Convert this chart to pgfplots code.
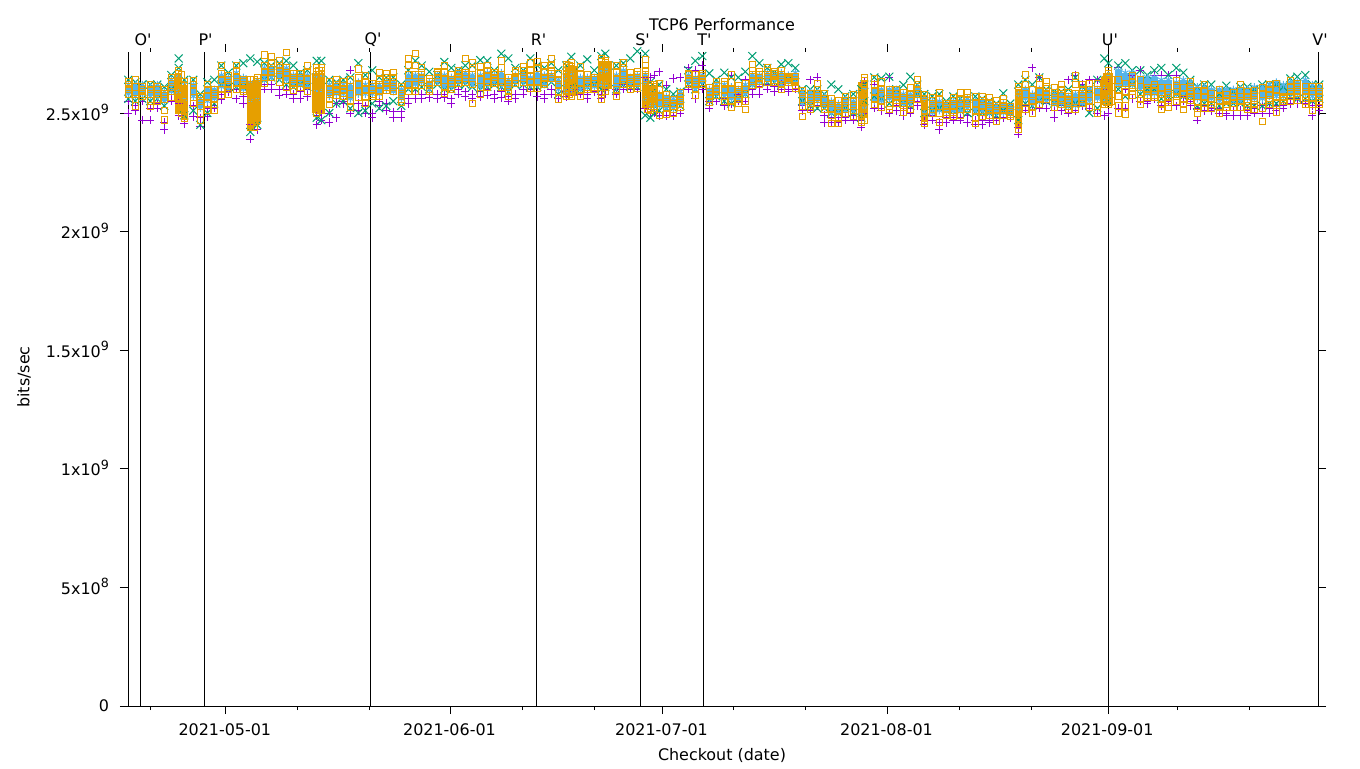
\documentclass[border=0pt]{standalone}
\usepackage{pgfplots}
\usepackage{pgfplotstable}
\usepackage{fontspec}
\setmainfont{DejaVu Sans}
\newfontfamily\nf{DejaVu Sans}
\pgfplotsset{compat=1.18}
\definecolor{cp}{HTML}{9400D3}
\definecolor{cg}{HTML}{009E73}
\definecolor{cb}{HTML}{56B4E9}
\definecolor{co}{HTML}{E69F00}
\newcommand{\tf}{\fontsize{11.95}{14}\selectfont}
\newcommand{\sx}[2]{#1x10\raisebox{0.42em}{\fontsize{9.5}{10}\selectfont #2}}
\pgfplotstableread{
x o1 o2 o3 o4 o5 bh bl p1 p2 g1 g2
128.3 2.63 2.62 2.61 2.60 2.58 2.62 2.58 2.55 2.50 2.64 2.56
135.3 2.64 2.61 2.58 2.56 2.53 2.62 2.57 2.53 2.51 2.63 2.55
142.3 2.61 2.60 2.59 2.58 2.57 2.62 2.58 2.55 2.47 2.62 2.56
150.3 2.62 2.60 2.58 2.55 2.53 2.61 2.57 2.52 2.47 2.62 2.55
157.3 2.61 2.60 2.58 2.56 2.55 2.62 2.57 2.54 2.52 2.62 2.56
164.3 2.60 2.58 2.56 2.51 2.47 2.59 2.55 2.46 2.43 2.61 2.53
171.3 2.65 2.63 2.61 2.59 2.565 2.64 2.59 2.58 2.55 2.66 2.60
178.7 2.68 2.65 2.62 2.59 2.56 2.66 2.59 2.54 2.49 2.73 2.69
184.3 2.63 2.60 2.57 2.53 2.48 2.62 2.56 2.50 2.455 2.64 2.49
193.3 2.636 2.62 2.59 2.565 2.54 2.62 2.57 2.53 2.485 2.64 2.51
200.3 2.57 2.55 2.53 2.50 2.47 2.56 2.52 2.48 2.445 2.58 2.45
207.3 2.62 2.60 2.57 2.54 2.51 2.60 2.55 2.52 2.485 2.63 2.50
214.3 2.60 2.58 2.56 2.535 2.51 2.60 2.56 2.53 2.52 2.64 2.54
221.3 2.70 2.665 2.64 2.60 2.575 2.66 2.61 2.58 2.555 2.70 2.62
228.3 2.655 2.64 2.62 2.60 2.58 2.65 2.60 2.60 2.59 2.67 2.61
236.3 2.70 2.68 2.65 2.63 2.60 2.67 2.62 2.60 2.56 2.70 2.61
243.3 2.64 2.63 2.62 2.60 2.59 2.65 2.60 2.57 2.54 2.71 2.61
250.3 2.64 2.60 2.56 2.52 2.44 2.63 2.55 2.45 2.39 2.73 2.42
257.3 2.65 2.61 2.57 2.53 2.47 2.64 2.56 2.50 2.43 2.716 2.45
264.3 2.745 2.70 2.67 2.65 2.625 2.69 2.64 2.62 2.60 2.71 2.64
271.3 2.735 2.71 2.69 2.67 2.65 2.69 2.65 2.62 2.60 2.70 2.65
279.3 2.72 2.70 2.68 2.66 2.63 2.69 2.65 2.60 2.575 2.71 2.64
286.3 2.755 2.69 2.67 2.64 2.61 2.69 2.64 2.60 2.58 2.72 2.62
293.3 2.667 2.65 2.63 2.615 2.597 2.66 2.62 2.58 2.56 2.70 2.61
300.3 2.667 2.65 2.64 2.625 2.61 2.66 2.62 2.59 2.56 2.67 2.62
307.3 2.70 2.67 2.64 2.62 2.59 2.66 2.61 2.60 2.57 2.68 2.61
316.7 2.69 2.66 2.63 2.60 2.57 2.66 2.59 2.49 2.45 2.72 2.48
321.3 2.69 2.665 2.63 2.60 2.57 2.66 2.59 2.50 2.47 2.72 2.47
329.3 2.63 2.60 2.58 2.56 2.535 2.62 2.57 2.50 2.46 2.64 2.50
336.3 2.64 2.62 2.60 2.59 2.575 2.62 2.58 2.54 2.48 2.63 2.54
343.3 2.63 2.615 2.60 2.585 2.57 2.62 2.58 2.55 2.54 2.64 2.55
350.3 2.64 2.61 2.58 2.55 2.525 2.62 2.56 2.68 2.50 2.65 2.52
358.3 2.685 2.65 2.62 2.59 2.565 2.63 2.58 2.54 2.51 2.71 2.50
365.3 2.655 2.63 2.60 2.57 2.54 2.62 2.58 2.53 2.50 2.66 2.51
372.3 2.625 2.61 2.60 2.58 2.57 2.62 2.58 2.50 2.48 2.68 2.54
379.3 2.67 2.64 2.62 2.59 2.57 2.62 2.58 2.55 2.53 2.65 2.52
386.3 2.667 2.65 2.63 2.61 2.597 2.63 2.60 2.54 2.51 2.65 2.53
393.3 2.67 2.65 2.63 2.61 2.59 2.63 2.59 2.505 2.48 2.65 2.55
401.3 2.61 2.60 2.58 2.56 2.545 2.60 2.56 2.505 2.48 2.62 2.53
408.3 2.73 2.70 2.66 2.62 2.59 2.66 2.61 2.56 2.54 2.68 2.60
415.3 2.75 2.70 2.66 2.62 2.59 2.66 2.62 2.58 2.56 2.72 2.60
421.7 2.69 2.67 2.65 2.63 2.615 2.66 2.63 2.58 2.56 2.70 2.61
429.3 2.645 2.63 2.615 2.60 2.59 2.63 2.60 2.58 2.565 2.674 2.60
437.3 2.675 2.67 2.66 2.645 2.63 2.66 2.63 2.58 2.56 2.66 2.62
444.3 2.70 2.67 2.64 2.61 2.585 2.66 2.61 2.58 2.565 2.715 2.60
451.3 2.66 2.64 2.625 2.61 2.60 2.65 2.61 2.56 2.54 2.69 2.60
458.3 2.68 2.665 2.65 2.64 2.625 2.67 2.63 2.60 2.58 2.68 2.62
465.3 2.73 2.67 2.66 2.645 2.63 2.67 2.63 2.59 2.57 2.70 2.62
472.3 2.71 2.69 2.66 2.62 2.54 2.66 2.62 2.58 2.56 2.70 2.61
480.3 2.695 2.67 2.64 2.61 2.58 2.66 2.61 2.59 2.57 2.723 2.60
487.3 2.70 2.68 2.655 2.63 2.61 2.67 2.62 2.60 2.575 2.72 2.61
494.3 2.67 2.66 2.65 2.635 2.625 2.66 2.63 2.58 2.56 2.68 2.62
501.3 2.72 2.69 2.66 2.63 2.61 2.67 2.62 2.59 2.565 2.75 2.61
508.3 2.65 2.63 2.61 2.59 2.57 2.64 2.60 2.57 2.55 2.73 2.59
515.3 2.68 2.67 2.65 2.64 2.625 2.66 2.63 2.58 2.56 2.69 2.62
523.3 2.695 2.68 2.66 2.645 2.63 2.67 2.63 2.60 2.58 2.68 2.62
530.3 2.71 2.68 2.655 2.63 2.605 2.65 2.62 2.60 2.59 2.73 2.61
537.3 2.715 2.69 2.66 2.63 2.605 2.67 2.62 2.59 2.57 2.70 2.61
544.3 2.70 2.67 2.65 2.63 2.62 2.66 2.62 2.58 2.56 2.69 2.62
551.3 2.73 2.70 2.68 2.665 2.645 2.66 2.64 2.60 2.58 2.71 2.63
558.3 2.665 2.64 2.62 2.59 2.56 2.64 2.60 2.58 2.56 2.68 2.58
566.3 2.705 2.68 2.65 2.62 2.59 2.66 2.59 2.59 2.57 2.70 2.60
571.3 2.71 2.685 2.655 2.625 2.59 2.66 2.60 2.60 2.59 2.737 2.61
580.3 2.695 2.66 2.63 2.60 2.57 2.65 2.60 2.60 2.58 2.70 2.60
587.3 2.66 2.64 2.625 2.61 2.60 2.65 2.61 2.58 2.56 2.726 2.61
594.3 2.65 2.64 2.625 2.61 2.60 2.65 2.61 2.61 2.59 2.68 2.62
601.3 2.73 2.70 2.67 2.64 2.61 2.68 2.62 2.58 2.56 2.74 2.60
605.3 2.72 2.695 2.665 2.635 2.61 2.68 2.62 2.60 2.58 2.75 2.61
616.3 2.70 2.67 2.64 2.60 2.57 2.66 2.61 2.60 2.58 2.70 2.60
623.3 2.71 2.69 2.66 2.64 2.62 2.68 2.63 2.62 2.60 2.71 2.62
630.3 2.67 2.65 2.63 2.615 2.60 2.65 2.62 2.62 2.60 2.73 2.61
637.3 2.675 2.66 2.64 2.625 2.605 2.66 2.62 2.62 2.60 2.76 2.61
645.3 2.725 2.70 2.68 2.66 2.64 2.66 2.56 2.65 2.52 2.75 2.49
650.3 2.62 2.60 2.58 2.56 2.52 2.58 2.53 2.65 2.50 2.63 2.48
654.3 2.62 2.60 2.58 2.56 2.53 2.58 2.53 2.66 2.50 2.60 2.50
659.3 2.625 2.60 2.57 2.54 2.49 2.58 2.53 2.674 2.49 2.62 2.51
666.3 2.575 2.56 2.54 2.52 2.495 2.57 2.52 2.617 2.49 2.60 2.52
673.3 2.555 2.54 2.53 2.515 2.50 2.56 2.52 2.646 2.49 2.58 2.52
680.3 2.585 2.57 2.55 2.535 2.525 2.59 2.54 2.65 2.50 2.59 2.53
688.3 2.665 2.66 2.645 2.63 2.62 2.66 2.63 2.69 2.60 2.68 2.62
695.3 2.66 2.64 2.62 2.60 2.575 2.65 2.60 2.68 2.56 2.72 2.60
702.3 2.667 2.655 2.645 2.63 2.62 2.66 2.63 2.70 2.60 2.74 2.62
709.3 2.605 2.59 2.575 2.56 2.545 2.60 2.56 2.55 2.52 2.667 2.55
716.3 2.63 2.615 2.60 2.59 2.575 2.62 2.58 2.56 2.55 2.64 2.57
724.3 2.63 2.62 2.60 2.57 2.55 2.62 2.57 2.56 2.53 2.67 2.55
731.3 2.66 2.63 2.60 2.55 2.525 2.61 2.56 2.66 2.54 2.65 2.54
738.3 2.615 2.60 2.58 2.56 2.54 2.60 2.56 2.58 2.55 2.65 2.56
745.3 2.625 2.60 2.58 2.55 2.515 2.62 2.58 2.64 2.55 2.674 2.58
752.3 2.705 2.68 2.66 2.635 2.615 2.66 2.62 2.60 2.58 2.74 2.62
759.3 2.675 2.66 2.65 2.635 2.62 2.66 2.63 2.61 2.58 2.71 2.64
767.3 2.69 2.68 2.66 2.645 2.63 2.67 2.64 2.62 2.60 2.69 2.63
774.3 2.675 2.665 2.655 2.64 2.63 2.66 2.64 2.61 2.59 2.67 2.63
781.3 2.68 2.66 2.64 2.62 2.60 2.67 2.62 2.62 2.60 2.705 2.62
788.3 2.653 2.65 2.645 2.64 2.63 2.66 2.63 2.60 2.59 2.71 2.64
795.3 2.653 2.64 2.63 2.615 2.605 2.67 2.63 2.62 2.60 2.69 2.63
802.3 2.595 2.58 2.56 2.53 2.485 2.59 2.54 2.53 2.51 2.60 2.55
810.3 2.58 2.565 2.55 2.53 2.515 2.59 2.54 2.64 2.51 2.60 2.53
817.3 2.625 2.60 2.58 2.56 2.54 2.59 2.55 2.65 2.53 2.60 2.52
824.3 2.58 2.56 2.55 2.53 2.515 2.57 2.53 2.49 2.46 2.58 2.52
831.3 2.56 2.54 2.52 2.49 2.455 2.55 2.50 2.48 2.46 2.62 2.50
838.3 2.55 2.53 2.51 2.48 2.455 2.54 2.50 2.48 2.46 2.60 2.50
845.3 2.57 2.55 2.53 2.515 2.50 2.56 2.51 2.48 2.47 2.57 2.52
853.3 2.575 2.55 2.53 2.51 2.485 2.55 2.51 2.49 2.47 2.58 2.50
861.3 2.585 2.56 2.53 2.50 2.46 2.56 2.50 2.47 2.44 2.60 2.48
864.3 2.65 2.62 2.58 2.55 2.52 2.60 2.52 2.63 2.50 2.62 2.55
874.3 2.645 2.62 2.59 2.56 2.535 2.60 2.55 2.62 2.52 2.65 2.57
881.3 2.63 2.60 2.58 2.55 2.525 2.60 2.55 2.52 2.51 2.646 2.56
889.3 2.597 2.58 2.56 2.53 2.515 2.60 2.56 2.65 2.50 2.653 2.54
896.3 2.597 2.58 2.57 2.555 2.54 2.60 2.56 2.53 2.51 2.60 2.56
903.3 2.585 2.565 2.54 2.525 2.505 2.58 2.54 2.51 2.49 2.618 2.54
910.3 2.605 2.58 2.56 2.54 2.515 2.58 2.54 2.52 2.50 2.653 2.53
917.3 2.64 2.62 2.60 2.58 2.56 2.61 2.57 2.55 2.53 2.62 2.58
924.3 2.575 2.54 2.51 2.48 2.455 2.56 2.50 2.47 2.45 2.58 2.50
932.3 2.565 2.55 2.53 2.515 2.50 2.55 2.50 2.49 2.47 2.57 2.51
939.3 2.585 2.56 2.53 2.50 2.46 2.55 2.51 2.46 2.43 2.58 2.52
946.3 2.54 2.53 2.52 2.505 2.49 2.54 2.51 2.48 2.46 2.55 2.51
953.3 2.565 2.55 2.53 2.505 2.485 2.55 2.51 2.48 2.47 2.57 2.51
960.3 2.585 2.56 2.54 2.515 2.49 2.55 2.51 2.48 2.47 2.56 2.51
967.3 2.585 2.565 2.55 2.53 2.515 2.56 2.52 2.49 2.46 2.56 2.50
975.3 2.57 2.54 2.51 2.48 2.455 2.55 2.51 2.47 2.45 2.57 2.50
982.3 2.57 2.55 2.53 2.505 2.485 2.55 2.51 2.47 2.45 2.56 2.50
989.3 2.565 2.545 2.525 2.51 2.49 2.54 2.50 2.47 2.46 2.55 2.50
996.3 2.55 2.53 2.51 2.49 2.465 2.53 2.50 2.48 2.47 2.54 2.49
1003.3 2.56 2.545 2.525 2.51 2.49 2.54 2.50 2.50 2.48 2.583 2.51
1010.3 2.525 2.515 2.505 2.495 2.485 2.53 2.50 2.49 2.48 2.54 2.50
1018.3 2.61 2.58 2.55 2.52 2.49 2.58 2.52 2.44 2.41 2.62 2.47
1025.3 2.66 2.62 2.58 2.55 2.515 2.60 2.56 2.53 2.51 2.64 2.54
1032.3 2.597 2.57 2.55 2.525 2.50 2.58 2.54 2.69 2.51 2.62 2.53
1039.3 2.645 2.62 2.59 2.56 2.535 2.60 2.55 2.65 2.52 2.65 2.55
1046.3 2.63 2.61 2.59 2.575 2.56 2.59 2.55 2.54 2.52 2.60 2.55
1054.3 2.605 2.585 2.565 2.545 2.525 2.58 2.54 2.51 2.48 2.59 2.54
1061.3 2.62 2.60 2.58 2.555 2.535 2.58 2.54 2.53 2.51 2.59 2.54
1068.3 2.585 2.57 2.55 2.53 2.515 2.57 2.53 2.64 2.50 2.60 2.53
1075.3 2.655 2.62 2.58 2.55 2.515 2.58 2.53 2.66 2.51 2.65 2.54
1082.3 2.62 2.60 2.58 2.56 2.54 2.59 2.54 2.62 2.53 2.61 2.54
1089.3 2.625 2.60 2.58 2.55 2.525 2.60 2.55 2.64 2.52 2.60 2.50
1097.3 2.625 2.59 2.56 2.53 2.50 2.60 2.56 2.64 2.50 2.64 2.52
1104.3 2.635 2.61 2.59 2.56 2.535 2.61 2.55 2.60 2.49 2.73 2.55
1108.3 2.68 2.65 2.61 2.57 2.535 2.66 2.57 2.65 2.50 2.71 2.55
1118.3 2.64 2.60 2.57 2.53 2.50 2.68 2.62 2.69 2.52 2.70 2.60
1125.3 2.625 2.59 2.56 2.53 2.495 2.67 2.62 2.60 2.52 2.71 2.57
1132.3 2.655 2.63 2.61 2.59 2.575 2.67 2.62 2.66 2.56 2.68 2.62
1140.3 2.64 2.61 2.58 2.56 2.535 2.65 2.60 2.68 2.55 2.68 2.58
1147.3 2.605 2.60 2.59 2.575 2.565 2.65 2.58 2.55 2.54 2.66 2.60
1154.3 2.62 2.605 2.59 2.575 2.565 2.65 2.58 2.66 2.56 2.68 2.60
1161.3 2.605 2.58 2.56 2.535 2.515 2.64 2.58 2.66 2.53 2.69 2.56
1168.3 2.605 2.585 2.565 2.545 2.525 2.64 2.58 2.66 2.55 2.66 2.57
1176.3 2.635 2.615 2.59 2.57 2.55 2.63 2.58 2.66 2.53 2.69 2.58
1183.3 2.605 2.58 2.56 2.535 2.515 2.64 2.58 2.57 2.55 2.67 2.57
1190.3 2.63 2.61 2.59 2.57 2.555 2.63 2.57 2.55 2.53 2.64 2.57
1197.3 2.595 2.57 2.545 2.52 2.50 2.61 2.56 2.52 2.47 2.61 2.53
1204.3 2.62 2.59 2.57 2.54 2.52 2.61 2.56 2.53 2.51 2.62 2.54
1211.3 2.58 2.56 2.55 2.535 2.52 2.60 2.56 2.52 2.51 2.62 2.54
1219.3 2.60 2.57 2.55 2.525 2.50 2.60 2.55 2.52 2.50 2.58 2.53
1226.3 2.575 2.56 2.55 2.535 2.525 2.60 2.56 2.50 2.49 2.615 2.54
1233.3 2.585 2.57 2.555 2.54 2.525 2.60 2.55 2.51 2.49 2.59 2.54
1240.3 2.62 2.595 2.57 2.55 2.525 2.60 2.55 2.51 2.49 2.61 2.54
1247.3 2.59 2.57 2.55 2.53 2.515 2.60 2.56 2.51 2.49 2.61 2.53
1254.3 2.595 2.575 2.555 2.535 2.515 2.61 2.56 2.52 2.50 2.60 2.53
1262.3 2.605 2.58 2.55 2.52 2.465 2.61 2.56 2.53 2.50 2.62 2.53
1269.3 2.62 2.60 2.575 2.555 2.535 2.62 2.57 2.52 2.50 2.62 2.54
1276.3 2.625 2.60 2.57 2.54 2.505 2.63 2.57 2.53 2.51 2.62 2.54
1283.3 2.57 2.565 2.56 2.55 2.55 2.62 2.57 2.53 2.52 2.61 2.55
1290.3 2.635 2.61 2.59 2.57 2.55 2.63 2.58 2.56 2.54 2.646 2.57
1297.3 2.625 2.61 2.59 2.57 2.555 2.63 2.58 2.56 2.54 2.653 2.56
1305.3 2.61 2.59 2.57 2.55 2.535 2.64 2.58 2.55 2.54 2.66 2.56
1312.3 2.61 2.59 2.565 2.535 2.51 2.62 2.57 2.53 2.49 2.62 2.55
1319.3 2.61 2.59 2.57 2.55 2.535 2.61 2.57 2.53 2.51 2.62 2.56
}\main
\pgfplotstableread{
x y
178.7 2.665
178.7 2.635
178.7 2.605
178.7 2.575
178.7 2.51
181.5 2.66
181.5 2.62
181.5 2.58
181.5 2.54
181.5 2.50
184.3 2.615
184.3 2.585
184.3 2.55
184.3 2.51
250.3 2.62
250.3 2.58
250.3 2.54
250.3 2.50
250.3 2.48
250.3 2.46
254 2.64
254 2.62
254 2.60
254 2.58
254 2.56
254 2.54
254 2.52
254 2.50
254 2.48
254 2.46
254 2.44
257.3 2.63
257.3 2.59
257.3 2.55
257.3 2.51
257.3 2.49
316.7 2.675
316.7 2.645
316.7 2.615
316.7 2.585
316.7 2.555
316.7 2.54
316.7 2.52
316.7 2.50
319 2.68
319 2.65
319 2.62
319 2.59
319 2.56
319 2.53
319 2.51
321.3 2.68
321.3 2.65
321.3 2.61
321.3 2.58
321.3 2.55
321.3 2.53
321.3 2.51
566.3 2.69
566.3 2.665
566.3 2.635
566.3 2.605
566.3 2.57
569 2.70
569 2.67
569 2.64
569 2.61
569 2.58
571.3 2.695
571.3 2.67
571.3 2.64
571.3 2.61
571.3 2.57
601.3 2.715
601.3 2.685
601.3 2.655
601.3 2.625
601.3 2.58
601.3 2.56
605.3 2.71
605.3 2.68
605.3 2.65
605.3 2.62
605.3 2.59
645.3 2.62
645.3 2.60
645.3 2.58
645.3 2.56
645.3 2.535
648 2.61
648 2.59
648 2.57
648 2.55
648 2.53
648 2.515
650.3 2.61
650.3 2.59
650.3 2.57
650.3 2.54
650.3 2.51
654.3 2.61
654.3 2.59
654.3 2.57
654.3 2.55
654.3 2.52
861.3 2.575
861.3 2.55
861.3 2.52
861.3 2.49
861.3 2.47
864.3 2.635
864.3 2.60
864.3 2.565
864.3 2.50
864.3 2.47
924.3 2.56
924.3 2.53
924.3 2.50
924.3 2.47
1018.3 2.595
1018.3 2.565
1018.3 2.535
1018.3 2.505
1018.3 2.47
1018.3 2.45
1018.3 2.43
1104.3 2.625
1104.3 2.60
1104.3 2.575
1104.3 2.55
1106 2.64
1106 2.61
1106 2.58
1106 2.55
1108.3 2.665
1108.3 2.63
1108.3 2.59
1108.3 2.55
1111 2.64
1111 2.61
1111 2.58
1111 2.55
}\oextra
% stacks of orange squares too close together to be told apart: x, top, bottom
\pgfplotstableread{
x hi lo
178.7 2.66 2.50
184.5 2.62 2.47
251 2.635 2.43
256 2.64 2.45
316 2.67 2.50
321 2.67 2.50
570 2.70 2.57
573 2.70 2.57
603 2.72 2.60
608 2.72 2.60
646 2.62 2.52
653 2.62 2.52
862 2.63 2.48
864 2.63 2.48
924.5 2.57 2.46
1018.5 2.60 2.44
1107 2.67 2.53
1109 2.67 2.53
}\odense
\begin{document}
\begin{tikzpicture}[x=0.75pt,y=0.75pt]
\useasboundingbox (-128,-62) rectangle (1232,706);
\begin{axis}[
  at={(0,0)},anchor=origin,
  scale only axis,width=892.5pt,height=490.5pt,
  xmin=128,xmax=1318,ymin=0,ymax=2.7572,
  clip=false,
  axis line style={draw=none},
  tick align=outside,
  tick style={black,line width=0.75pt},
  major tick length=6pt,minor tick length=3pt,
  xtick={225.6,450.3,662.3,887.3,1108},
  xticklabels={2021-05-01,2021-06-01,2021-07-01,2021-08-01,2021-09-01},
  minor xtick={150.3,297,369,522.3,594.3,733,805,959,1031,1177,1249},
  ytick={0,0.5,1,1.5,2,2.5},
  yticklabels={0,\sx{5}{8},\sx{1}{9},\sx{1.5}{9},\sx{2}{9},\sx{2.5}{9}},
  tick label style={font=\tf},
  xticklabel style={yshift=-3.5pt,xshift=-0.6pt},
  yticklabel style={xshift=-4.8pt,yshift=0.6pt},
  xtick pos=both,ytick pos=both,
  xticklabel pos=bottom,yticklabel pos=left,
  every axis plot/.append style={line width=0.75pt},
]
\draw[line width=0.75pt] (axis cs:128,0)--(axis cs:1318,0);
\foreach \v in {128.3,140.3,204.3,370.3,536.3,640.3,703.7,1108.3,1318.3}{
  \edef\tmp{\noexpand\addplot[black,line width=0.75pt,no marks] coordinates {(\v,0)(\v,2.7572)};}\tmp
}
\pgfplotsset{pm/.style={only marks,mark=+,mark size=3.1pt,cp,mark options={line width=0.75pt}},
 gm/.style={only marks,mark=x,mark size=4.2pt,cg,mark options={line width=0.75pt}},
 bm/.style={only marks,mark=asterisk,mark size=2.8pt,cb,mark options={line width=0.75pt}},
 om/.style={only marks,mark=square,mark size=2.45pt,co,mark options={line width=0.75pt}}}
\addplot[pm] table[x=x,y=p2]{\main};
\addplot[pm] table[x=x,y=p1]{\main};
\addplot[gm] table[x=x,y=g1]{\main};
\addplot[gm] table[x=x,y=g2]{\main};
\addplot[bm,error bars/.cd,y dir=minus,y explicit,error mark=none,error bar style={line width=5.4pt,cb}] table[x=x,y=bh,y error expr=\thisrow{bh}-\thisrow{bl}]{\main};
\addplot[bm] table[x=x,y=bl]{\main};
\addplot[om] table[x=x,y=o1]{\main};
\addplot[om] table[x=x,y=o2]{\main};
\addplot[om] table[x=x,y=o3]{\main};
\addplot[om] table[x=x,y=o4]{\main};
\addplot[om] table[x=x,y=o5]{\main};
\addplot[om] table[x=x,y=y]{\oextra};
\addplot[only marks,mark=square,mark size=0.1pt,co,mark options={line width=0.1pt},error bars/.cd,y dir=minus,y explicit,error mark=none,error bar style={line width=5.4pt,co}] table[x=x,y=hi,y error expr=\thisrow{hi}-\thisrow{lo}]{\odense};
\node[font=\tf] at (axis cs:722,2.871) {TCP6 Performance};
\node[font=\tf] at (axis cs:722,-0.21) {Checkout (date)};
\node[font=\tf,rotate=90] at (axis cs:24,1.387) {bits/sec};
\node[font=\tf\nf] at (axis cs:143,2.808) {O'};
\node[font=\tf\nf] at (axis cs:205.5,2.808) {P'};
\node[font=\tf\nf] at (axis cs:373,2.808) {Q'};
\node[font=\tf\nf] at (axis cs:538.5,2.808) {R'};
\node[font=\tf\nf] at (axis cs:642.5,2.808) {S'};
\node[font=\tf\nf] at (axis cs:704.5,2.808) {T'};
\node[font=\tf\nf] at (axis cs:1110,2.808) {U'};
\node[font=\tf\nf] at (axis cs:1320,2.808) {V'};
\end{axis}
\end{tikzpicture}
\end{document}
